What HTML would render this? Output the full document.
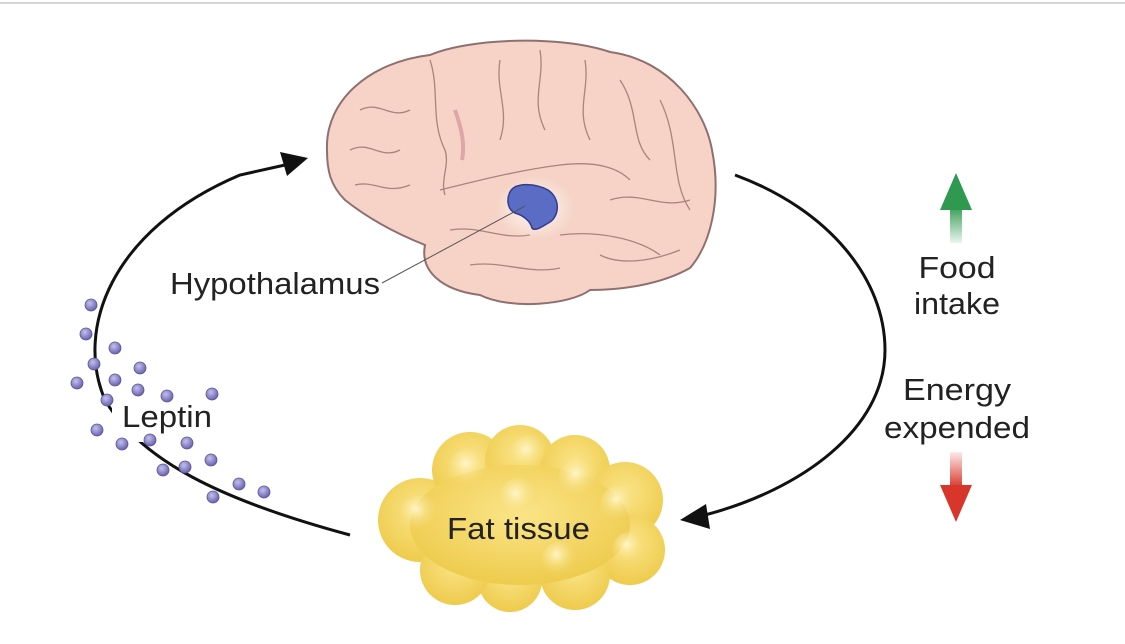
<!DOCTYPE html>
<html><head><meta charset="utf-8"><style>
html,body{margin:0;padding:0;background:#fff;}
svg{display:block;}
text{font-family:"Liberation Sans",Arial,sans-serif;fill:#222;}
</style></head><body>
<svg width="1125" height="644" viewBox="0 0 1125 644">
<defs>
<radialGradient id="fat" cx="50%" cy="40%" r="60%"><stop offset="0" stop-color="#fbe58a"/><stop offset="1" stop-color="#eecb4c"/></radialGradient>
<radialGradient id="blob" cx="40%" cy="35%" r="60%"><stop offset="0" stop-color="#fff6c8"/><stop offset="1" stop-color="#f3d25a" stop-opacity="0"/></radialGradient>
<linearGradient id="gs" x1="0" y1="0" x2="0" y2="1"><stop offset="0" stop-color="#2f9a4f"/><stop offset="1" stop-color="#2f9a4f" stop-opacity="0.1"/></linearGradient>
<linearGradient id="rs" x1="0" y1="1" x2="0" y2="0"><stop offset="0" stop-color="#d8362a"/><stop offset="1" stop-color="#d8362a" stop-opacity="0.1"/></linearGradient>
<radialGradient id="dot" cx="40%" cy="35%" r="65%"><stop offset="0" stop-color="#c4c0ec"/><stop offset="1" stop-color="#6a62b0"/></radialGradient>
<radialGradient id="glow" cx="50%" cy="50%" r="50%"><stop offset="0" stop-color="#fff" stop-opacity="0.9"/><stop offset="1" stop-color="#fff" stop-opacity="0"/></radialGradient>
</defs>
<line x1="0" y1="3" x2="1125" y2="3" stroke="#d6d6d6" stroke-width="2"/>

<!-- brain -->
<path d="M327,150 C325,100 370,62 430,55 C470,38 560,35 610,52 C670,60 705,110 712,150 C722,200 710,245 690,268 C660,285 620,290 590,290 C570,305 510,310 480,295 C440,290 420,270 425,245 C400,235 370,220 345,200 C330,185 327,170 327,150 Z" fill="#f6d3c6" stroke="#8f7070" stroke-width="2"/>
<g fill="none" stroke="#9a6f6a" stroke-width="1.3" opacity="0.8">
<path d="M360,110 C380,100 390,120 410,110 M350,150 C370,140 380,160 400,150 M355,185 C375,180 385,195 410,185"/>
<path d="M430,60 C440,90 430,120 445,150 C450,165 440,180 445,195"/>
<path d="M440,190 C480,180 520,170 560,165 C600,160 620,170 630,180"/>
<path d="M500,60 C495,90 510,110 500,140 M540,50 C545,80 530,100 545,130 M585,60 C590,90 575,110 590,140"/>
<path d="M620,80 C640,110 630,140 650,160 M660,100 C680,140 670,180 690,210"/>
<path d="M450,230 C480,225 500,240 530,235 M560,235 C600,230 640,240 660,255 M470,265 C500,260 530,275 560,268 M600,255 C620,265 650,262 680,250"/>
<path d="M610,200 C640,190 660,210 690,200"/>
</g>
<path d="M455,110 C462,130 465,145 462,160" stroke="#c98a95" stroke-width="4" fill="none" opacity="0.6"/>
<ellipse cx="535" cy="208" rx="40" ry="32" fill="url(#glow)"/>
<path d="M510,192 C515,182 535,183 548,190 C560,198 560,215 550,222 C543,226 535,232 532,228 C530,220 522,215 515,213 C508,210 506,200 510,192 Z" fill="#5b6cc4" stroke="#2f3d8f" stroke-width="1.5"/>
<line x1="382" y1="283" x2="525" y2="206" stroke="#555" stroke-width="1"/>
<text x="170" y="294" font-size="31" textLength="210" lengthAdjust="spacingAndGlyphs">Hypothalamus</text>

<!-- fat tissue -->
<g fill="url(#fat)">
<circle cx="420" cy="520" r="42"/><circle cx="470" cy="470" r="38"/><circle cx="520" cy="460" r="35"/>
<circle cx="575" cy="470" r="35"/><circle cx="625" cy="500" r="38"/><circle cx="630" cy="550" r="35"/>
<circle cx="575" cy="575" r="35"/><circle cx="510" cy="580" r="32"/><circle cx="455" cy="570" r="35"/>
<ellipse cx="520" cy="525" rx="110" ry="60"/>
</g>
<g fill="url(#blob)">
<circle cx="470" cy="470" r="22"/><circle cx="530" cy="455" r="20"/><circle cx="580" cy="480" r="22"/>
<circle cx="520" cy="500" r="22"/><circle cx="620" cy="505" r="20"/><circle cx="420" cy="515" r="20"/>
<circle cx="630" cy="550" r="18"/><circle cx="560" cy="560" r="18"/>
</g>
<text x="447" y="539" font-size="31" textLength="143" lengthAdjust="spacingAndGlyphs">Fat tissue</text>

<!-- arrows -->
<path d="M350,535 C220,500 140,460 105,400 C75,330 110,230 240,175 L285,165" fill="none" stroke="#111" stroke-width="3"/>
<path d="M308,158 L280,152 L287,176 Z" fill="#111"/>
<path d="M735,175 C830,210 885,280 885,350 C885,430 800,490 705,515" fill="none" stroke="#111" stroke-width="3"/>
<path d="M680,520 L706,504 L710,529 Z" fill="#111"/>

<rect x="112" y="402" width="102" height="40" fill="#fff"/>
<g fill="url(#dot)" stroke="#5a5399" stroke-width="0.8">
<circle cx="91" cy="305" r="6"/><circle cx="86" cy="334" r="6"/><circle cx="115" cy="348" r="6"/>
<circle cx="94" cy="364" r="6"/><circle cx="140" cy="368" r="6"/><circle cx="77" cy="383" r="6"/>
<circle cx="115" cy="380" r="6"/><circle cx="138" cy="390" r="6"/><circle cx="167" cy="396" r="6"/>
<circle cx="212" cy="394" r="6"/><circle cx="107" cy="400" r="6"/><circle cx="97" cy="430" r="6"/>
<circle cx="122" cy="444" r="6"/><circle cx="150" cy="440" r="6"/><circle cx="187" cy="443" r="6"/>
<circle cx="211" cy="460" r="6"/><circle cx="163" cy="470" r="6"/><circle cx="185" cy="467" r="6"/>
<circle cx="239" cy="484" r="6"/><circle cx="264" cy="492" r="6"/><circle cx="213" cy="497" r="6"/>
</g>
<text x="122" y="427" font-size="31" textLength="90" lengthAdjust="spacingAndGlyphs">Leptin</text>

<!-- side arrows & labels -->
<rect x="950" y="205" width="12" height="38" fill="url(#gs)"/>
<path d="M956,173 L940,210 L972,210 Z" fill="#2f9a4f"/>
<text x="957" y="278" font-size="31" text-anchor="middle" textLength="77" lengthAdjust="spacingAndGlyphs">Food</text>
<text x="957" y="314" font-size="31" text-anchor="middle" textLength="86" lengthAdjust="spacingAndGlyphs">intake</text>
<text x="957" y="400" font-size="31" text-anchor="middle" textLength="108" lengthAdjust="spacingAndGlyphs">Energy</text>
<text x="957" y="438" font-size="31" text-anchor="middle" textLength="146" lengthAdjust="spacingAndGlyphs">expended</text>
<rect x="950" y="452" width="12" height="36" fill="url(#rs)"/>
<path d="M956,522 L940,485 L972,485 Z" fill="#d8362a"/>
</svg>
</body></html>
